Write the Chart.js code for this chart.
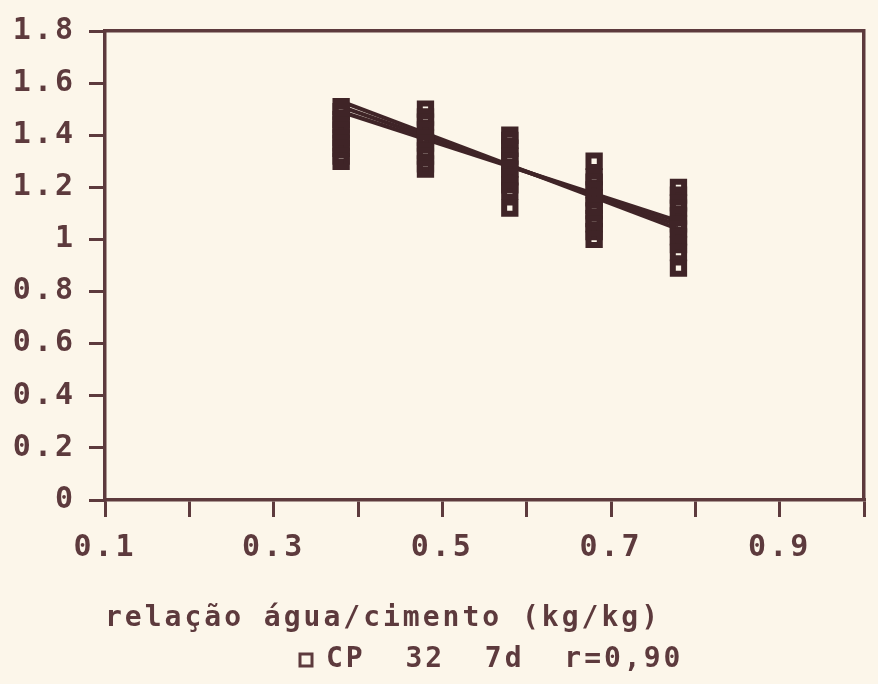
<!DOCTYPE html>
<html>
<head>
<meta charset="utf-8">
<script src="https://cdn.jsdelivr.net/npm/chart.js@4.4.1/dist/chart.umd.min.js"></script>
<style>
  html, body { margin: 0; padding: 0; background: #fcf6ea; }
</style>
</head>
<body>
<canvas id="ratioChart" width="878" height="684"></canvas>
<script>
// water/cement ratio of each group of specimens
let ratioCategories = [0.38, 0.48, 0.58, 0.68, 0.78]

// readings of each group (top to bottom)
let strength038 = [1.51, 1.49, 1.46, 1.44, 1.42, 1.39, 1.37, 1.35, 1.32, 1.30]
let strength048 = [1.50, 1.47, 1.45, 1.42, 1.39, 1.37, 1.34, 1.32, 1.29, 1.27]
let strength058 = [1.40, 1.38, 1.35, 1.32, 1.30, 1.27, 1.24, 1.21, 1.185, 1.12]
let strength068 = [1.30, 1.24, 1.22, 1.19, 1.16, 1.13, 1.11, 1.08, 1.06, 1.03, 1.00]
let strength078 = [1.20, 1.17, 1.14, 1.12, 1.09, 1.06, 1.04, 1.01, 0.98, 0.95, 0.89]

// fitted lines (end points)
let fitX = [0.38, 0.78]
let fitUpper = [1.53, 1.04]
let fitMiddle = [1.51, 1.055]
let fitLower = [1.49, 1.07]

let xTickLabels = ['0.1', '', '0.3', '', '0.5', '', '0.7', '', '0.9', '']
let yTickLabels = ['0', '0.2', '0.4', '0.6', '0.8', '1', '1.2', '1.4', '1.6', '1.8']

let seriesLabel = 'CP  32  7d  r=0,90'
let xTitle = 'relação água/cimento (kg/kg)'

const ink = '#5d3a3d'
const mark = '#3f2427'
const paper = '#fcf6ea'
const mono = 'DejaVu Sans Mono'

let clusterValues = [strength038, strength048, strength058, strength068, strength078]
let clusterPoints = []
ratioCategories.forEach((x, i) => {
    clusterValues[i].forEach(y => clusterPoints.push({ x: x, y: y }))
})

function fitLine(ys) {
    return fitX.map((x, i) => ({ x: x, y: ys[i] }))
}

// old plotter look: paper colour, wide lettering, legend pushed under the title
const plotterLook = {
    id: 'plotterLook',
    beforeUpdate(chart) {
        chart.ctx.letterSpacing = '3px'
    },
    afterLayout(chart) {
        chart.legend.left += 290
        chart.legend.right += 290
    },
    beforeDraw(chart) {
        const ctx = chart.ctx
        ctx.letterSpacing = '3px'
        ctx.save()
        ctx.fillStyle = paper
        ctx.fillRect(0, 0, chart.width, chart.height)
        ctx.restore()
    }
}

const frameSide = {
    display: true,
    ticks: { display: false },
    grid: { display: false, drawTicks: false },
    border: { display: true, color: ink, width: 3.5 }
}

let ctx = document.getElementById('ratioChart').getContext('2d')
let ratioChart = new Chart(ctx, {
    type: 'scatter',
    data: {
        datasets: [
            {
                label: seriesLabel,
                data: clusterPoints,
                pointStyle: 'rect',
                pointRadius: 8,
                pointHoverRadius: 8,
                borderWidth: 6,
                borderColor: mark,
                backgroundColor: 'rgba(0,0,0,0)'
            },
            { type: 'line', label: 'fit a', data: fitLine(fitUpper), borderColor: mark, borderWidth: 4, pointRadius: 0, fill: false },
            { type: 'line', label: 'fit b', data: fitLine(fitMiddle), borderColor: mark, borderWidth: 4, pointRadius: 0, fill: false },
            { type: 'line', label: 'fit c', data: fitLine(fitLower), borderColor: mark, borderWidth: 4, pointRadius: 0, fill: false }
        ]
    },
    options: {
        responsive: false,
        animation: false,
        layout: { padding: { top: 22, right: 8, left: 0, bottom: 0 } },
        plugins: {
            tooltip: { enabled: false },
            legend: {
                position: 'bottom',
                align: 'start',
                labels: {
                    usePointStyle: true,
                    boxWidth: 12,
                    boxHeight: 12,
                    padding: 10,
                    color: ink,
                    font: { family: mono, size: 28, weight: 'bold' },
                    generateLabels(chart) {
                        return Chart.defaults.plugins.legend.labels.generateLabels(chart)
                            .filter(item => item.datasetIndex === 0)
                            .map(item => Object.assign(item, { lineWidth: 3, strokeStyle: ink }))
                    }
                }
            }
        },
        scales: {
            x: {
                type: 'linear',
                min: 0.1,
                max: 1.0,
                afterFit(scale) { scale.height = 136 },
                border: { color: ink, width: 3.5 },
                grid: { drawOnChartArea: false, drawTicks: true, tickLength: 17, color: ink, lineWidth: 3 },
                ticks: {
                    stepSize: 0.1,
                    autoSkip: false,
                    maxRotation: 0,
                    padding: 13,
                    color: ink,
                    font: { family: mono, size: 30, weight: 'bold' },
                    callback: (value, index) => xTickLabels[index]
                },
                title: {
                    display: true,
                    text: xTitle,
                    align: 'start',
                    color: ink,
                    font: { family: mono, size: 28, weight: 'bold' },
                    padding: { top: 0, bottom: 0 }
                }
            },
            y: {
                min: 0,
                max: 1.8,
                afterFit(scale) { scale.width = 105 },
                border: { color: ink, width: 3.5 },
                grid: { drawOnChartArea: false, drawTicks: true, tickLength: 16, color: ink, lineWidth: 3 },
                ticks: {
                    stepSize: 0.2,
                    padding: 13,
                    color: ink,
                    font: { family: mono, size: 30, weight: 'bold' },
                    callback: (value) => yTickLabels[Math.round(value / 0.2)]
                }
            },
            xTop: Object.assign({ position: 'top', afterFit(scale) { scale.height = 0 } }, frameSide),
            yRight: Object.assign({ position: 'right', afterFit(scale) { scale.width = 0 } }, frameSide)
        }
    },
    plugins: [plotterLook]
})
</script>
</body>
</html>
